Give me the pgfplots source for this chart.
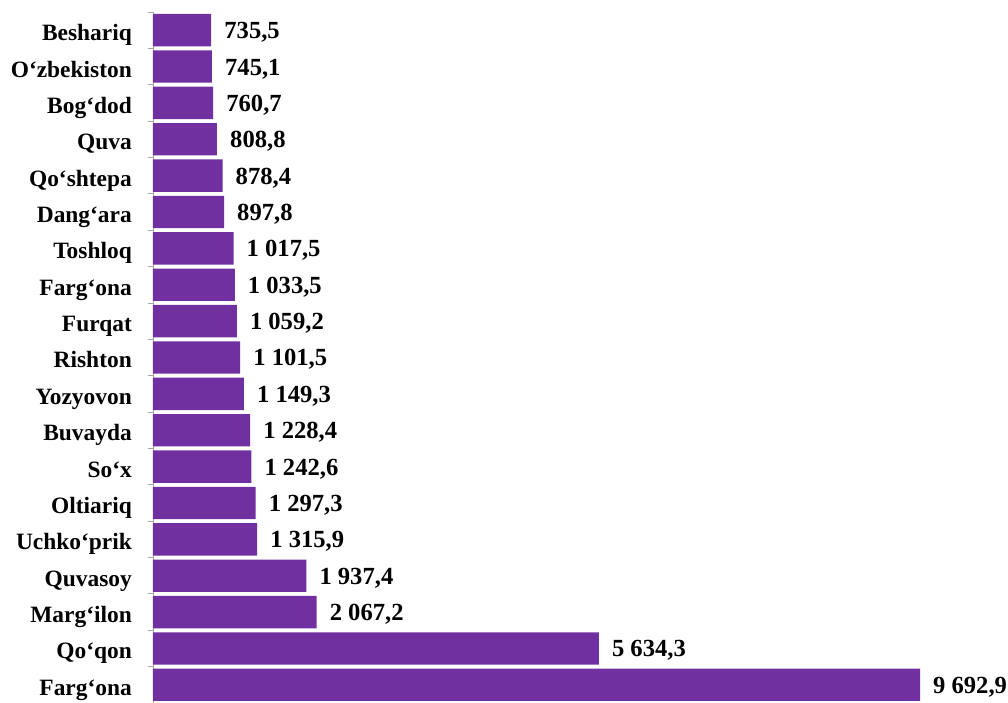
\documentclass[border=0pt]{standalone}
\usepackage{fontspec}
\setmainfont{Liberation Serif}
\usepackage{pgfplots}
\pgfplotsset{compat=1.18}
\definecolor{barpurple}{HTML}{7030A0}
\definecolor{axgray}{HTML}{A6A6A6}
\begin{document}
\begin{tikzpicture}
\begin{axis}[
  scale only axis,
  width=855bp, height=691bp,
  xbar, bar width=0.89,
  xmin=0, xmax=10805,
  ymin=-0.5, ymax=18.5,
  axis y line*=left,
  axis x line=none,
  axis line style={axgray, line width=0.8bp},
  ytick={0,...,18},
  yticklabels={Farg‘ona,Qo‘qon,Marg‘ilon,Quvasoy,Uchko‘prik,Oltiariq,So‘x,Buvayda,Yozyovon,Rishton,Furqat,Farg‘ona,Toshloq,Dang‘ara,Qo‘shtepa,Quva,Bog‘dod,O‘zbekiston,Beshariq},
  major tick length=0pt,
  y tick label style={inner sep=0pt, anchor=base east, yshift=-10.5bp, font=\bfseries\fontsize{23.5}{25}\selectfont},
  yticklabel shift=21bp,
  extra y ticks={-0.5,0.5,...,18.5},
  extra y tick labels={},
  extra y tick style={major tick length=5bp, tick align=outside, tick style={axgray, line width=0.8bp}},
  nodes near coords,
  every node near coord/.append style={anchor=base west, inner sep=0pt, xshift=13bp, yshift=-8.5bp, text=black, font=\bfseries\fontsize{24.7}{26}\selectfont},
  /pgf/number format/.cd, fixed, fixed zerofill, precision=1, use comma, 1000 sep={\ }, assume math mode=true,
]
\addplot[fill=barpurple, draw=none] coordinates {
(9692.9,0) (5634.3,1) (2067.2,2) (1937.4,3) (1315.9,4) (1297.3,5) (1242.6,6) (1228.4,7) (1149.3,8) (1101.5,9) (1059.2,10) (1033.5,11) (1017.5,12) (897.8,13) (878.4,14) (808.8,15) (760.7,16) (745.1,17) (735.5,18)
};
\end{axis}
\pgfresetboundingbox
\path (-153bp,0bp) rectangle (855bp,703bp);
\end{tikzpicture}
\end{document}
